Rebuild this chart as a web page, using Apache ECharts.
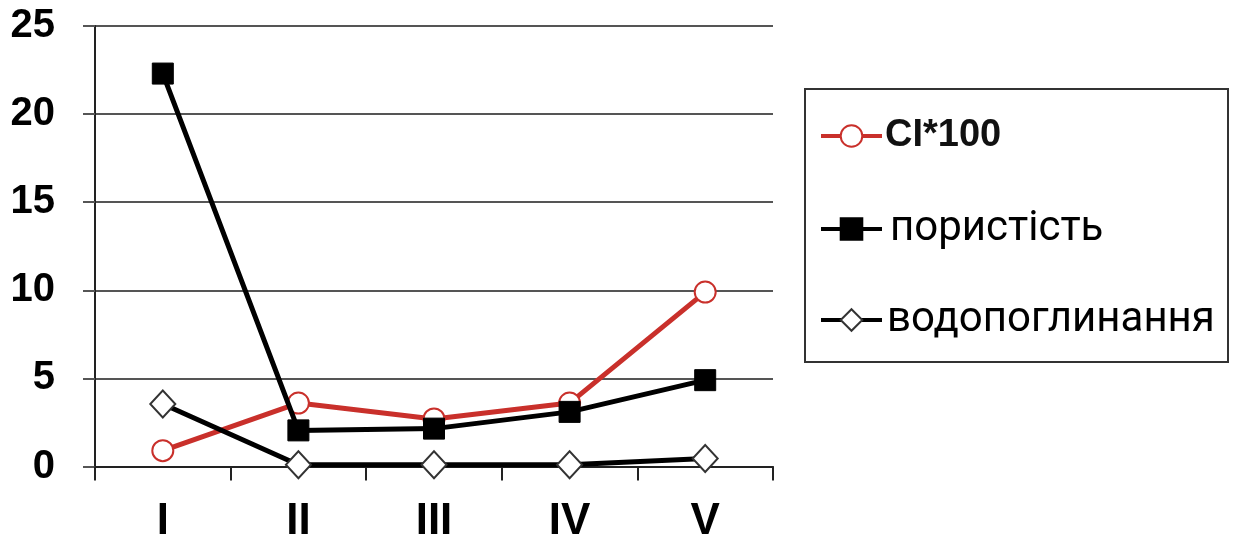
<!DOCTYPE html>
<html>
<head>
<meta charset="utf-8">
<script src="https://cdn.jsdelivr.net/npm/echarts@6/dist/echarts.min.js"></script>
<style>html,body{margin:0;padding:0;background:#fff}#c{width:1234px;height:538px}</style>
</head>
<body>
<div id="c"></div>
<script>
const categories = ['I', 'II', 'III', 'IV', 'V'];
const ciValues = [0.9, 3.6, 2.7, 3.6, 9.9];
const porosityValues = [22.3, 2.05, 2.15, 3.1, 4.9];
const waterValues = [3.55, 0.1, 0.1, 0.1, 0.45];
const yTicks = [0, 5, 10, 15, 20, 25];

const RED = '#c9302b';
const chart = echarts.init(document.getElementById('c'), null, {renderer: 'canvas'});
const legendBase = {
  orient: 'vertical', left: 819, itemWidth: 61, itemHeight: 27, padding: 0,
  selectedMode: false, itemGap: 0,
  lineStyle: {width: 4}
};
chart.setOption({
  animation: false,
  backgroundColor: '#fff',
  grid: {left: 95, right: 461, top: 26, bottom: 71.5, containLabel: false, outerBoundsMode: 'none'},
  graphic: [{
    type: 'rect', shape: {x: 805, y: 89, width: 423, height: 273},
    style: {fill: '#fff', stroke: '#333', lineWidth: 2}, z: 0
  }],
  legend: [
    Object.assign({}, legendBase, {top: 117, data: ['CI*100'],
      textStyle: {fontFamily: 'Liberation Sans', fontWeight: 'bold', fontSize: 38, lineHeight: 27, color: '#111', padding: [0, 0, 0, -2]}}),
    Object.assign({}, legendBase, {top: 208, data: ['пористість'],
      textStyle: {fontFamily: 'Roboto', fontSize: 42, lineHeight: 27, color: '#000', padding: [0, 0, 0, 3]}}),
    Object.assign({}, legendBase, {top: 299, data: ['водопоглинання'],
      textStyle: {fontFamily: 'Roboto', fontSize: 42, lineHeight: 27, color: '#000', width: 335, overflow: 'truncate', ellipsis: ''}})
  ],
  xAxis: {
    type: 'category', data: categories, boundaryGap: true,
    axisLine: {lineStyle: {color: '#222', width: 2}},
    axisTick: {show: true, alignWithLabel: false, length: 14, lineStyle: {color: '#222', width: 2}},
    axisLabel: {margin: 33, fontFamily: 'Liberation Sans', fontWeight: 'bold', fontSize: 44, color: '#000'},
    splitLine: {show: false}
  },
  yAxis: {
    type: 'value', min: 0, max: 25, interval: 5,
    axisLine: {show: true, lineStyle: {color: '#222', width: 2}},
    axisTick: {show: true, length: 12, lineStyle: {color: '#555', width: 2}},
    axisLabel: {margin: 40, fontFamily: 'Liberation Sans', fontWeight: 'bold', fontSize: 40, color: '#000',
      formatter: v => yTicks.includes(v) ? String(v) : ''},
    splitLine: {show: true, lineStyle: {color: '#555', width: 2}}
  },
  series: [
    {name: 'CI*100', type: 'line', data: ciValues, symbol: 'circle', symbolSize: 21,
      lineStyle: {color: RED, width: 5}, itemStyle: {color: '#fff', borderColor: RED, borderWidth: 2}, z: 3},
    {name: 'пористість', type: 'line', data: porosityValues, symbol: 'rect', symbolSize: 21,
      lineStyle: {color: '#000', width: 5}, itemStyle: {color: '#000', borderColor: '#000', borderWidth: 1}, z: 4},
    {name: 'водопоглинання', type: 'line', data: waterValues, symbol: 'diamond', symbolSize: [25, 27],
      lineStyle: {color: '#000', width: 5}, itemStyle: {color: '#fff', borderColor: '#333', borderWidth: 2}, z: 5}
  ]
});
</script>
</body>
</html>
